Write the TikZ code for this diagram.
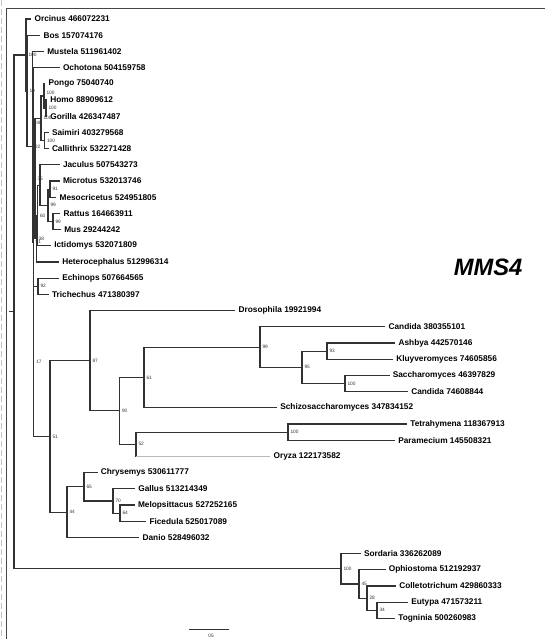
\documentclass[tikz,border=0pt]{standalone}
\usepackage{fontspec}
\setmainfont{Liberation Sans}
\usepackage{xcolor}
\usetikzlibrary{calc}
\definecolor{branchgray}{RGB}{50,50,50}
\definecolor{framegray}{RGB}{70,70,70}

\begin{document}
\begin{tikzpicture}[
  x=1pt, y=-1pt,
  br/.style={draw=branchgray, line width=1.1pt, line cap=rect, line join=miter},
  faintbr/.style={draw=gray!55, line width=0.5pt},
  taxon/.style={anchor=west, inner xsep=3.6pt, inner ysep=0pt,
    font=\fontsize{8.3}{10}\selectfont\bfseries},
  bs/.style={anchor=west, inner sep=0.3pt, xshift=2pt, text=black!80,
    font=\fontsize{4.8}{5}\selectfont},
]
\useasboundingbox (0,0) rectangle (545,639);

% Frame and scan edge
\draw[gray!45, dash pattern=on 6pt off 3pt, line width=1.5pt] (1.5,0) -- (1.5,639);
\draw[framegray, line width=1.3pt] (6.5,639) -- (6.5,8.5) -- (545,8.5);

% Leaves (branch ends at .west)
\node[taxon] (Orcinus)        at (30.8, 19.0)  {Orcinus 466072231};
\node[taxon] (Bos)            at (39.8, 35.2)  {Bos 157074176};
\node[taxon] (Mustela)        at (43.5, 51.4)  {Mustela 511961402};
\node[taxon] (Ochotona)       at (59.2, 67.6)  {Ochotona 504159758};
\node[taxon] (Pongo)          at (44.8, 83.8)  {Pongo 75040740};
\node[taxon] (Homo)           at (46.5,100.0)  {Homo 88909612};
\node[taxon] (Gorilla)        at (46.5,116.2)  {Gorilla 426347487};
\node[taxon] (Saimiri)        at (48.2,132.4)  {Saimiri 403279568};
\node[taxon] (Callithrix)     at (48.2,148.6)  {Callithrix 532271428};
\node[taxon] (Jaculus)        at (59.2,164.8)  {Jaculus 507543273};
\node[taxon] (Microtus)       at (59.2,181.0)  {Microtus 532013746};
\node[taxon] (Mesocricetus)   at (55.8,197.2)  {Mesocricetus 524951805};
\node[taxon] (Rattus)         at (59.8,213.4)  {Rattus 164663911};
\node[taxon] (Mus)            at (60.5,229.6)  {Mus 29244242};
\node[taxon] (Ictidomys)      at (50.5,245.8)  {Ictidomys 532071809};
\node[taxon] (Heterocephalus) at (58.5,262.0)  {Heterocephalus 512996314};
\node[taxon] (Echinops)       at (58.5,278.2)  {Echinops 507664565};
\node[taxon] (Trichechus)     at (48.2,294.4)  {Trichechus 471380397};
\node[taxon] (Drosophila)     at (234.8,310.6) {Drosophila 19921994};
\node[taxon] (CandidaA)       at (384.8,326.8) {Candida 380355101};
\node[taxon] (Ashbya)         at (394.8,343.0) {Ashbya 442570146};
\node[taxon] (Kluyveromyces)  at (392.5,359.2) {Kluyveromyces 74605856};
\node[taxon] (Saccharomyces)  at (389.0,375.4) {Saccharomyces 46397829};
\node[taxon] (CandidaB)       at (407.5,391.6) {Candida 74608844};
\node[taxon] (Schizo)         at (276.5,407.8) {Schizosaccharomyces 347834152};
\node[taxon] (Tetrahymena)    at (406.5,424.0) {Tetrahymena 118367913};
\node[taxon] (Paramecium)     at (394.5,440.2) {Paramecium 145508321};
\node[taxon] (Oryza)          at (269.8,456.4) {Oryza 122173582};
\node[taxon] (Chrysemys)      at (97.0,472.6)  {Chrysemys 530611777};
\node[taxon] (Gallus)         at (134.5,488.8) {Gallus 513214349};
\node[taxon] (Melopsittacus)  at (134.2,505.0) {Melopsittacus 527252165};
\node[taxon] (Ficedula)       at (145.7,521.2) {Ficedula 525017089};
\node[taxon] (Danio)          at (138.8,537.4) {Danio 528496032};
\node[taxon] (Sordaria)       at (360.2,553.6) {Sordaria 336262089};
\node[taxon] (Ophiostoma)     at (385.0,569.8) {Ophiostoma 512192937};
\node[taxon] (Colletotrichum) at (395.5,586.0) {Colletotrichum 429860333};
\node[taxon] (Eutypa)         at (407.5,602.2) {Eutypa 471573211};
\node[taxon] (Togninia)       at (394.5,618.4) {Togninia 500260983};

% Internal nodes
\coordinate (Root) at (14,311.9);
\coordinate (RootStub) at (10,311.9);
\coordinate (N1)   at (26,55.0);
\coordinate (N1b)  at (27,91.0);
\coordinate (N1c)  at (32.5,146.8);
\coordinate (N91)  at (33.2,242.2);
\coordinate (N48)  at (33.8,123.05);
\coordinate (N35)  at (35.0,178.5);
\coordinate (P)    at (41,118.25);
\coordinate (PHG)  at (44,96.0);
\coordinate (HG)   at (46,108.1);
\coordinate (SC)   at (44.5,140.5);
\coordinate (Z)    at (36.2,238.7);
\coordinate (Y)    at (37.5,215.4);
\coordinate (J)    at (40,185.05);
\coordinate (MR)   at (48,205.3);
\coordinate (MM)   at (50,189.1);
\coordinate (RM)   at (53,221.5);
\coordinate (N17)  at (33.8,361.35);
\coordinate (ET)   at (38,286.3);
\coordinate (N51)  at (50,436.4);
\coordinate (N87)  at (90,360.7);
\coordinate (N90)  at (119.5,410.8);
\coordinate (N61)  at (144,377.4);
\coordinate (N99)  at (260,347.05);
\coordinate (N95)  at (302,367.3);
\coordinate (N93)  at (327,351.1);
\coordinate (N100a) at (345,383.5);
\coordinate (N52)  at (136,444.25);
\coordinate (N100b) at (288,432.1);
\coordinate (N44)  at (67,512.1);
\coordinate (N65)  at (84,486.8);
\coordinate (N70)  at (113,500.95);
\coordinate (N64)  at (120,513.1);
\coordinate (N100c) at (341,568.8);
\coordinate (N45)  at (359,583.98);
\coordinate (N28)  at (367,598.15);
\coordinate (N34)  at (377,610.3);

% Branches
\draw[br] (Root) -- (RootStub);
\draw[br] (N1) -| (Root) |- (N100c);
\draw[br] (Orcinus.west) -| (N1) |- (N1b);
\draw[br] (Bos.west) -| (N1b) |- (N1c);
\draw[br] (Mustela.west) -| (N1c) |- (N91);
\draw[br] (N48) -| (N91) |- (N17);
\draw[br] (Ochotona.west) -| (N48) |- (N35);
\draw[br] (P) -| (N35) |- (Z);
\draw[br] (PHG) -| (P) |- (SC);
\draw[br] (Pongo.west) -| (PHG) |- (HG);
\draw[br] (Homo.west) -| (HG) |- (Gorilla.west);
\draw[br] (Saimiri.west) -| (SC) |- (Callithrix.west);
\draw[br] (Y) -| (Z) |- (Heterocephalus.west);
\draw[br] (J) -| (Y) |- (Ictidomys.west);
\draw[br] (Jaculus.west) -| (J) |- (MR);
\draw[br] (MM) -| (MR) |- (RM);
\draw[br] (Microtus.west) -| (MM) |- (Mesocricetus.west);
\draw[br] (Rattus.west) -| (RM) |- (Mus.west);
\draw[br] (ET) -| (N17) |- (N51);
\draw[br] (Echinops.west) -| (ET) |- (Trichechus.west);
\draw[br] (N87) -| (N51) |- (N44);
\draw[br] (Drosophila.west) -| (N87) |- (N90);
\draw[br] (N61) -| (N90) |- (N52);
\draw[br] (N99) -| (N61) |- (Schizo.west);
\draw[br] (CandidaA.west) -| (N99) |- (N95);
\draw[br] (N93) -| (N95) |- (N100a);
\draw[br] (Ashbya.west) -| (N93) |- (Kluyveromyces.west);
\draw[br] (Saccharomyces.west) -| (N100a) |- (CandidaB.west);
\draw[br] (N100b) -| (N52) -- (N52 |- Oryza.west);
\draw[faintbr] (N52 |- Oryza.west) -- (Oryza.west);
\draw[br] (Tetrahymena.west) -| (N100b) |- (Paramecium.west);
\draw[br] (N65) -| (N44) |- (Danio.west);
\draw[br] (Chrysemys.west) -| (N65) |- (N70);
\draw[br] (Gallus.west) -| (N70) |- (N64);
\draw[br] (Melopsittacus.west) -| (N64) |- (Ficedula.west);
\draw[br] (Sordaria.west) -| (N100c) |- (N45);
\draw[br] (Ophiostoma.west) -| (N45) |- (N28);
\draw[br] (Colletotrichum.west) -| (N28) |- (N34);
\draw[br] (Eutypa.west) -| (N34) |- (Togninia.west);

% Bootstrap values
\foreach \n/\v in {N1/100, N1b/10, N1c/22, N48/48, N35/35, P/100,
    HG/100, SC/100, MM/91, RM/99, MR/99, Y/60, Z/38, N91/91, ET/92, N17/17,
    N51/51, N87/87, N90/90, N61/61, N99/99, N95/95, N93/93, N100a/100,
    N52/52, N100b/100, N65/65, N70/70, N64/64, N44/44, N100c/100, N45/45,
    N28/28, N34/34}{
  \node[bs] (bs\n) at (\n) {\v};
}
\node[bs, yshift=3pt] (bsPHG) at (PHG) {100};

% Title
\node[font=\fontsize{23.7}{26}\selectfont\bfseries\itshape] (title) at (488,267) {MMS4};

% Scale bar
\coordinate (ScaleL) at (189,629.3);
\coordinate (ScaleR) at (229,629.3);
\draw[br, line width=0.7pt] (ScaleL) -- (ScaleR);
\node[bs, anchor=center, xshift=0pt] (scalelabel) at (209,636) {05};

\end{tikzpicture}
\end{document}
